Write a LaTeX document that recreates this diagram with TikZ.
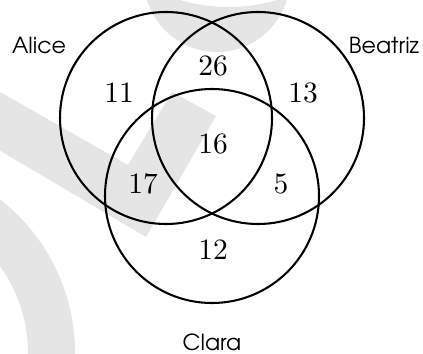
\documentclass[tikz,border=0pt]{standalone}
\usepackage{fontspec}
\newfontfamily\gothic{TeX Gyre Adventor}

\begin{document}
\begin{tikzpicture}[
    x=0.339pt, y=-0.339pt,
    set/.style={draw=black, line width=0.7pt},
    count/.style={inner sep=0pt, font=\normalsize},
    person/.style={inner sep=0pt, font=\gothic\fontsize{7.5}{9}\selectfont},
    wmark/.style={fill=black!10, draw=none}
]
\useasboundingbox (0,0) rectangle (423,353);

% Faint logo in the background
\begin{scope}
    \clip (0,0) rectangle (423,353);
    \begin{scope}
        \clip (217,-21) circle (73);
        \fill[wmark, even odd rule] (217,-21) circle (73) (228.5,-164.5) circle (171.5);
    \end{scope}
    \fill[wmark] (-40,69) -- (128,165) -- (172,92) -- (216,116) -- (146,237) -- (-40,127) -- cycle;
    \fill[wmark, even odd rule] (-120,353) circle (195) (-120,353) circle (148);
\end{scope}

% The three sets
\coordinate (ca) at (166,118);
\coordinate (cb) at (258,118);
\coordinate (cc) at (212,196);
\draw[set] (ca) circle (106);
\draw[set] (cb) circle (106);
\draw[set] (cc) circle (107);

% Counts in each region
\node[count] (n11) at (119,93) {11};
\node[count] (n26) at (213,66) {26};
\node[count] (n13) at (303,93) {13};
\node[count] (n16) at (213,144) {16};
\node[count] (n17) at (143,184) {17};
\node[count] (n5) at (281,184) {5};
\node[count] (n12) at (213,250) {12};

% Names
\node[person] (alice) at (39,45) {Alice};
\node[person] (beatriz) at (384,45) {Beatriz};
\node[person] (clara) at (212,342) {Clara};

\end{tikzpicture}
\end{document}
